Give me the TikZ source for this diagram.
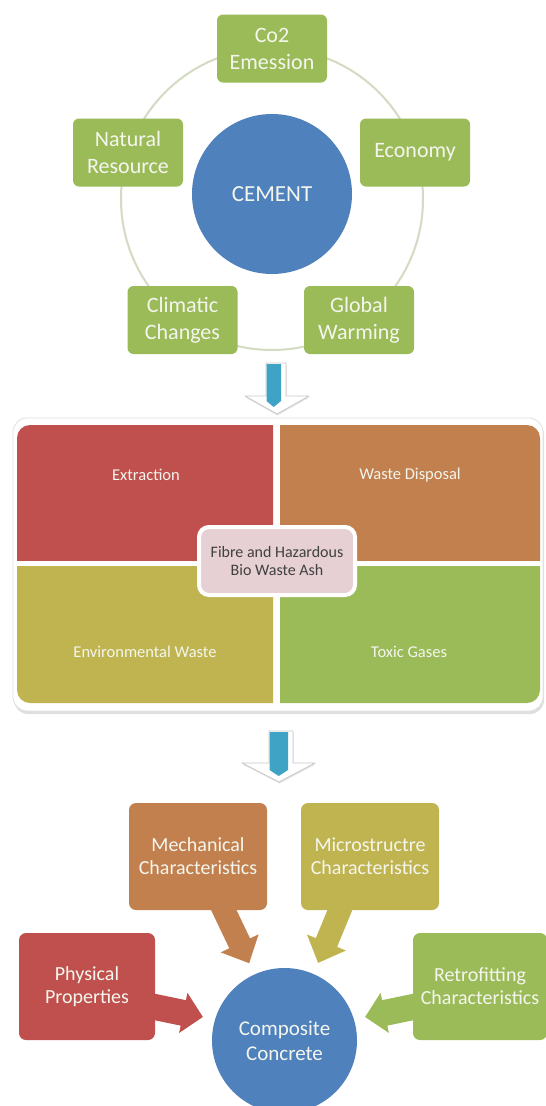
\documentclass[tikz,border=0pt]{standalone}
\usepackage{fontspec}
\setmainfont{Carlito}
\usetikzlibrary{arrows.meta,shadows}
\definecolor{cgreen}{HTML}{9BBB59}
\definecolor{cblue}{HTML}{4F81BD}
\definecolor{cred}{HTML}{C0504D}
\definecolor{corange}{HTML}{C3804F}
\definecolor{colive}{HTML}{C0B450}
\definecolor{cpink}{HTML}{E6D0D3}
\definecolor{caqua}{HTML}{3FA3C6}
\definecolor{cring}{HTML}{D3DBC3}
\definecolor{ctext}{HTML}{404040}
\definecolor{ctxtw}{HTML}{F4F6EE}
% #1 colour, #2 start coordinate, #3 angle, #4 length, #5 half shaft, #6 half head, #7 head length
\newcommand{\myblockarrow}[7]{%
  \begin{scope}[shift={(#2)}, rotate=#3]
    \fill[#1] (0,-#5) -- ({#4-#7},-#5) -- ({#4-#7},-#6) -- (#4,0) -- ({#4-#7},#6) -- ({#4-#7},#5) -- (0,#5) -- cycle;
  \end{scope}}
\begin{document}
\begin{tikzpicture}[x=1pt,y=-1pt,
  gbox/.style={fill=cgreen, rounded corners=6pt, minimum width=110pt, minimum height=68pt,
    align=center, text=ctxtw, font=\fontsize{22}{27}\selectfont, inner sep=2pt},
  bigcirc/.style={circle, fill=cblue, text=ctxtw, align=center, inner sep=0pt},
  qtext/.style={text=ctxtw, font=\fontsize{16.5}{19}\selectfont, inner sep=1pt},
  cbox/.style={fill=cpink, draw=white, line width=4pt, rounded corners=10pt,
    minimum width=156pt, minimum height=68pt, align=center, text=ctext,
    font=\fontsize{16}{18}\selectfont,
    drop shadow={shadow xshift=1pt, shadow yshift=-2pt, opacity=0.3}},
  bbox/.style={rounded corners=7pt, minimum width=138pt, minimum height=107pt,
    align=center, text=ctxtw, font=\fontsize{20}{23}\selectfont, inner sep=2pt},
  outarrow/.style={fill=white, draw=black!22, line width=0.8pt, line join=round,
    drop shadow={shadow xshift=0.5pt, shadow yshift=-1.5pt, opacity=0.2}}
]
\useasboundingbox (0,0) rectangle (546,1106);
\fill[white] (0,0) rectangle (546,1106);

% ---------- top cycle ----------
\draw[cring, line width=2pt] (272,199) circle[radius=151pt];
\node[bigcirc, minimum size=160pt, font=\fontsize{23}{27}\selectfont] (cement) at (272,194) {CEMENT};
\node[gbox] (co2) at (272,48.5) {Co2\\Emession};
\node[gbox] (nat) at (128,152.5) {Natural\\Resource};
\node[gbox] (eco) at (415,152.5) {Economy};
\node[gbox] (cli) at (182.5,320) {Climatic\\Changes};
\node[gbox] (glo) at (359,320) {Global\\Warming};

% ---------- arrow 1 ----------
\path[outarrow] (266,363) -- (286,363) -- (286,396) -- (309,396) -- (277,414) -- (245,396) -- (266,396) -- cycle;
\fill[caqua] (266.5,364) -- (281,364) -- (281,401) -- (273.7,407) -- (266.5,401) -- cycle;

% ---------- middle matrix ----------
\filldraw[fill=white, draw=black!12, line width=0.8pt, rounded corners=14pt,
  drop shadow={shadow xshift=1pt, shadow yshift=-3pt, opacity=0.25}] (13,418) rectangle (543,711);
\begin{scope}
  \clip (17,425) rectangle (273,560);
  \fill[cred, rounded corners=13pt] (17,425) rectangle (540,703);
\end{scope}
\begin{scope}
  \clip (280,425) rectangle (540,560);
  \fill[corange, rounded corners=13pt] (17,425) rectangle (540,703);
\end{scope}
\begin{scope}
  \clip (17,566) rectangle (273,703);
  \fill[colive, rounded corners=13pt] (17,425) rectangle (540,703);
\end{scope}
\begin{scope}
  \clip (280,566) rectangle (540,703);
  \fill[cgreen, rounded corners=13pt] (17,425) rectangle (540,703);
\end{scope}
\node[qtext] (ext) at (146,475) {Extraction};
\node[qtext] (wd) at (410,475) {Waste Disposal};
\node[qtext] (env) at (145,652) {Environmental Waste};
\node[qtext] (tox) at (409,652) {Toxic Gases};
\node[cbox] (fib) at (277,561) {Fibre and Hazardous\\Bio Waste Ash};

% ---------- arrow 2 ----------
\path[outarrow] (269,731) -- (293,731) -- (293,763) -- (315,763) -- (279,782) -- (242,763) -- (269,763) -- cycle;
\fill[caqua] (269.5,732) -- (288,732) -- (288,770) -- (278.7,776) -- (269.5,770) -- cycle;

% ---------- bottom ----------
\coordinate (m1) at (219,900);
\coordinate (s1) at (344,900);
\coordinate (p1) at (150,1006);
\coordinate (r1) at (418,1006);
\myblockarrow{corange}{m1}{-64.5}{70}{11.5}{21}{22}
\myblockarrow{colive}{s1}{-112.4}{68}{11.5}{21}{22}
\myblockarrow{cred}{p1}{-11.7}{54}{13}{20.5}{20}
\myblockarrow{cgreen}{r1}{-168.3}{54}{13}{20.5}{20}

\node[bbox, fill=corange] (mech) at (198,856.5) {Mechanical\\Characteristics};
\node[bbox, fill=colive] (micro) at (370,856.5) {Microstructre\\Characteristics};
\node[bbox, fill=cred, minimum width=136pt] (phys) at (87,986.5) {Physical\\Properties};
\node[bbox, fill=cgreen, minimum width=134pt] (retro) at (480,986.5) {Retrofitting\\Characteristics};
\node[bigcirc, minimum size=145pt, font=\fontsize{21}{25}\selectfont] (comp) at (284.5,1040.5) {Composite\\Concrete};
\end{tikzpicture}
\end{document}
